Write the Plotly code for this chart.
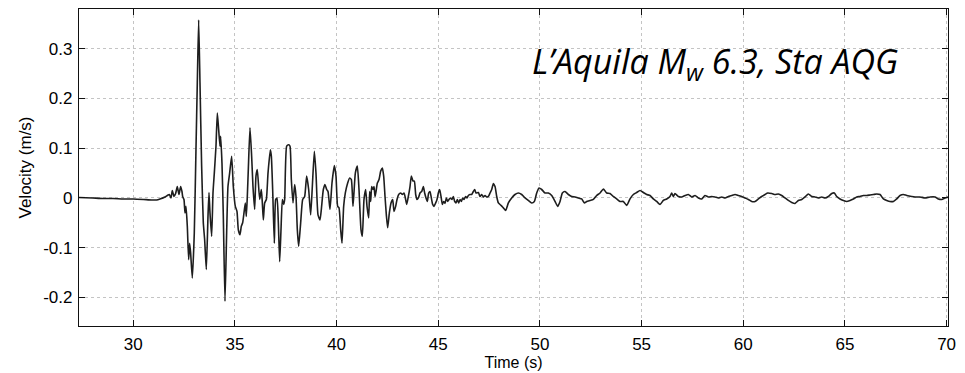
import plotly.graph_objects as go

# Velocity record, L'Aquila Mw 6.3 mainshock, station AQG
time_s = [
    27.33, 28.0, 28.5, 29.0, 29.5, 30.0, 30.5, 30.9, 31.15,
    31.313, 31.559, 31.674, 31.772, 31.854, 31.920, 32.001, 32.083, 32.165, 32.247,
    32.329, 32.395, 32.428, 32.493, 32.543, 32.592, 32.657, 32.723, 32.772, 32.821,
    32.903, 33.001, 33.083, 33.149, 33.215, 33.280, 33.362, 33.444, 33.510, 33.592,
    33.674, 33.723, 33.772, 33.854, 33.920, 33.985, 34.067, 34.133, 34.198, 34.264,
    34.297, 34.362, 34.428, 34.510, 34.592, 34.657, 34.739, 34.838, 34.920, 35.018,
    35.100, 35.166, 35.248, 35.313, 35.379, 35.444, 35.510, 35.559, 35.608, 35.657,
    35.739, 35.821, 35.887, 35.969, 36.034, 36.100,
    36.216, 36.298, 36.347, 36.396, 36.462, 36.544, 36.626, 36.741, 36.790, 36.855,
    36.937, 37.003, 37.068, 37.134, 37.200, 37.265, 37.331, 37.396, 37.445, 37.544,
    37.642, 37.708, 37.773, 37.855, 37.937, 38.003, 38.068, 38.134, 38.232, 38.331,
    38.429, 38.527, 38.626, 38.724, 38.806, 38.904, 38.986, 39.085, 39.183, 39.249,
    39.347, 39.429, 39.511, 39.577, 39.675, 39.773, 39.888, 39.970, 40.052, 40.118,
    40.200, 40.265, 40.347, 40.429, 40.544, 40.642, 40.724, 40.806, 40.921, 41.019,
    41.101, 41.200, 41.265, 41.347, 41.429, 41.495, 41.577, 41.626,
    41.676, 41.725, 41.790, 41.840, 41.889, 41.938, 42.004, 42.086, 42.167, 42.249,
    42.315, 42.381, 42.446, 42.512, 42.594, 42.676, 42.758, 42.823, 42.905, 42.971,
    43.053, 43.151, 43.233, 43.315, 43.381, 43.446, 43.528, 43.610, 43.676, 43.758,
    43.823, 43.889, 43.954, 44.020, 44.102, 44.184, 44.266, 44.331, 44.397, 44.463,
    44.528, 44.594, 44.659, 44.725, 44.790, 44.872, 44.938, 45.004, 45.069, 45.135,
    45.200, 45.266, 45.331, 45.397, 45.463, 45.528, 45.594, 45.676, 45.741, 45.807,
    45.872, 45.938, 46.004, 46.069, 46.135, 46.200, 46.266, 46.348, 46.413, 46.479,
    46.561, 46.643, 46.725, 46.790, 46.856,
    46.972, 47.054, 47.136, 47.218, 47.300, 47.382, 47.464, 47.546, 47.628, 47.710,
    47.792, 47.874, 47.956, 48.087, 48.201, 48.316, 48.447, 48.611, 48.775, 48.939,
    49.103, 49.267, 49.431, 49.595, 49.726, 49.841, 49.956, 50.087, 50.251, 50.415,
    50.579, 50.743, 50.874, 50.988, 51.103, 51.234, 51.398, 51.562, 51.726, 51.890,
    52.054, 52.185, 52.300, 52.464, 52.628, 52.792, 52.956, 53.120, 53.283, 53.447,
    53.611, 53.775, 53.939, 54.103, 54.267, 54.431, 54.595, 54.759, 54.923, 55.087,
    55.251, 55.415, 55.579, 55.742, 55.906, 56.070, 56.234, 56.398, 56.480, 56.562,
    56.644, 56.808, 56.972, 57.136, 57.300, 57.464, 57.628, 57.792, 57.956, 58.119,
    58.283, 58.447, 58.611,
    58.777, 58.941, 59.105, 59.269, 59.433, 59.597, 59.761, 59.925, 60.089, 60.252,
    60.416, 60.580, 60.744, 60.908, 61.072, 61.203, 61.400, 61.564, 61.728, 61.892,
    62.056, 62.220, 62.384, 62.547, 62.711, 62.875, 63.039, 63.203, 63.367, 63.531,
    63.695, 63.859, 64.023, 64.187, 64.351, 64.482, 64.597, 64.761, 64.925, 65.088,
    65.252, 65.416, 65.580, 65.744, 65.908, 66.072, 66.236, 66.400, 66.564, 66.728,
    66.892, 67.056, 67.220, 67.384, 67.547, 67.711, 67.875, 68.039, 68.285, 68.449,
    68.695, 68.941, 69.187, 69.432, 69.596, 69.760, 69.924, 70.088,
]

velocity_ms = [
    0.001, 0.000, -0.001, -0.001, -0.002, -0.002, -0.003, -0.004, -0.004,
    -0.002, 0.002, 0.005, 0.007, 0.000, 0.015, 0.003, 0.009, 0.023, 0.007,
    0.023, 0.013, 0.003, -0.003, -0.030, -0.017, -0.057, -0.124, -0.091, -0.111,
    -0.161, -0.070, 0.097, 0.232, 0.358, 0.232, 0.064, -0.050, -0.084, -0.144,
    -0.037, 0.011, -0.030, -0.077, 0.010, 0.050, 0.104, 0.171, 0.138, 0.104,
    0.124, 0.070, -0.037, -0.208, -0.070, 0.023, 0.050, 0.084, 0.023, -0.017,
    -0.027, -0.064, -0.074, -0.057, -0.050, -0.030, -0.010, -0.037, 0.003, 0.057,
    0.141, 0.084, 0.023, -0.023, 0.044, 0.057,
    -0.003, 0.017, -0.010, -0.044, -0.010, -0.003, 0.050, 0.097, 0.084, 0.017,
    -0.091, -0.003, 0.000, -0.050, -0.128, -0.064, -0.003, -0.013, -0.003, 0.104,
    0.107, 0.104, 0.037, -0.010, 0.027, 0.003, -0.064, -0.097, -0.050, -0.003,
    0.003, 0.044, 0.017, -0.034, 0.023, 0.094, 0.050, -0.034, -0.044, -0.023,
    0.017, 0.027, 0.017, 0.013, -0.023, 0.030, 0.065, 0.044, -0.017, -0.020,
    -0.064, -0.091, -0.017, 0.010, 0.030, 0.040, 0.037, -0.017, 0.050, 0.064,
    0.017, -0.064, -0.077, -0.003, 0.017, -0.017, -0.040, 0.013,
    -0.007, 0.023, 0.017, 0.023, 0.003, 0.013, 0.030, 0.037, 0.054, 0.060,
    0.044, 0.003, -0.034, -0.060, -0.030, -0.010, -0.003, -0.027, -0.017, -0.003,
    0.007, 0.010, 0.007, 0.010, 0.000, -0.013, 0.003, 0.023, 0.044, 0.034,
    0.034, 0.007, -0.003, 0.000, 0.010, 0.013, 0.023, 0.010, 0.000, -0.007,
    0.010, 0.013, 0.000, -0.013, -0.017, -0.010, -0.003, 0.010, 0.017, 0.003,
    -0.013, -0.007, -0.011, 0.000, -0.007, -0.003, 0.000, -0.003, 0.003, -0.007,
    -0.010, -0.003, -0.010, -0.003, -0.007, 0.000, -0.003, 0.003, 0.000, 0.005,
    0.007, 0.007, 0.013, 0.017, 0.010,
    0.011, 0.003, 0.007, 0.002, 0.005, 0.002, 0.003, 0.010, 0.017, 0.029,
    0.023, 0.003, -0.010, -0.015, -0.020, -0.025, -0.010, 0.000, 0.007, 0.010,
    0.007, 0.000, -0.005, -0.010, -0.007, 0.010, 0.020, 0.017, 0.010, 0.010,
    0.005, -0.007, -0.017, -0.007, 0.010, 0.013, 0.007, 0.003, 0.002, 0.000,
    -0.002, -0.010, -0.007, -0.005, -0.003, 0.005, 0.010, 0.018, 0.010, 0.009,
    0.003, -0.002, -0.007, -0.007, -0.015, -0.002, 0.007, 0.011, 0.015, 0.011,
    0.007, 0.005, -0.002, -0.007, -0.013, -0.005, -0.002, 0.003, 0.010, 0.003,
    0.009, 0.003, 0.002, 0.005, 0.007, 0.002, 0.005, 0.000, -0.002, 0.005,
    0.002, 0.003, 0.002,
    0.000, 0.002, 0.000, 0.003, 0.005, 0.007, 0.005, 0.003, 0.000, -0.003,
    -0.007, -0.007, -0.002, 0.003, 0.007, 0.010, 0.009, 0.007, 0.008, 0.005,
    0.000, -0.005, -0.009, -0.011, -0.005, -0.003, 0.002, 0.008, 0.003, 0.002,
    0.000, 0.002, 0.000, 0.003, 0.009, 0.010, 0.003, -0.002, -0.005, -0.007,
    -0.005, -0.002, 0.002, 0.003, 0.005, 0.005, 0.006, 0.007, 0.008, 0.007,
    -0.002, -0.005, -0.007, -0.007, -0.002, 0.005, 0.007, 0.005, 0.003, 0.002,
    0.002, 0.000, 0.002, 0.002, -0.002, -0.003, 0.000, 0.002,
]

x_ticks = [30, 35, 40, 45, 50, 55, 60, 65, 70]
y_ticks = [-0.2, -0.1, 0, 0.1, 0.2, 0.3]
y_ticklabels = ["-0.2", "-0.1", "0", "0.1", "0.2", "0.3"]

axis_font = dict(family="Liberation Sans", size=17, color="#000000")

fig = go.Figure()
fig.add_trace(go.Scatter(
    x=time_s, y=velocity_ms, mode="lines",
    line=dict(color="#1e1e1e", width=1.6, shape="spline", smoothing=0.5),
    showlegend=False, hoverinfo="skip",
))

common_axis = dict(
    showline=True, linecolor="#111111", linewidth=1.3, mirror="ticks",
    ticks="inside", ticklen=6, tickcolor="#111111", tickwidth=1,
    showgrid=True, gridcolor="#c4c4c4", gridwidth=0.8, griddash="dot",
    zeroline=False, tickfont=axis_font,
)

fig.update_xaxes(
    range=[27.33, 70.07], tickvals=x_ticks, ticklabelstandoff=2,
    title=dict(text="Time (s)", font=dict(axis_font, size=16), standoff=4),
    **common_axis,
)
fig.update_yaxes(
    range=[-0.2575, 0.38], tickvals=y_ticks, ticktext=y_ticklabels,
    ticklabelstandoff=2,
    title=dict(text="Velocity (m/s)", font=dict(axis_font, size=17), standoff=7),
    **common_axis,
)

fig.add_annotation(
    xref="paper", yref="paper", x=0.519, y=0.83,
    xanchor="left", yanchor="middle", showarrow=False,
    text="<i>L’Aquila M<sub>w</sub> 6.3, Sta AQG</i>",
    font=dict(family="Open Sans", size=34, color="#000000"),
)

fig.update_layout(
    width=965, height=373,
    margin=dict(l=79, r=17, t=9, b=47, autoexpand=False),
    paper_bgcolor="white", plot_bgcolor="white",
)

fig.write_html("out.html")
